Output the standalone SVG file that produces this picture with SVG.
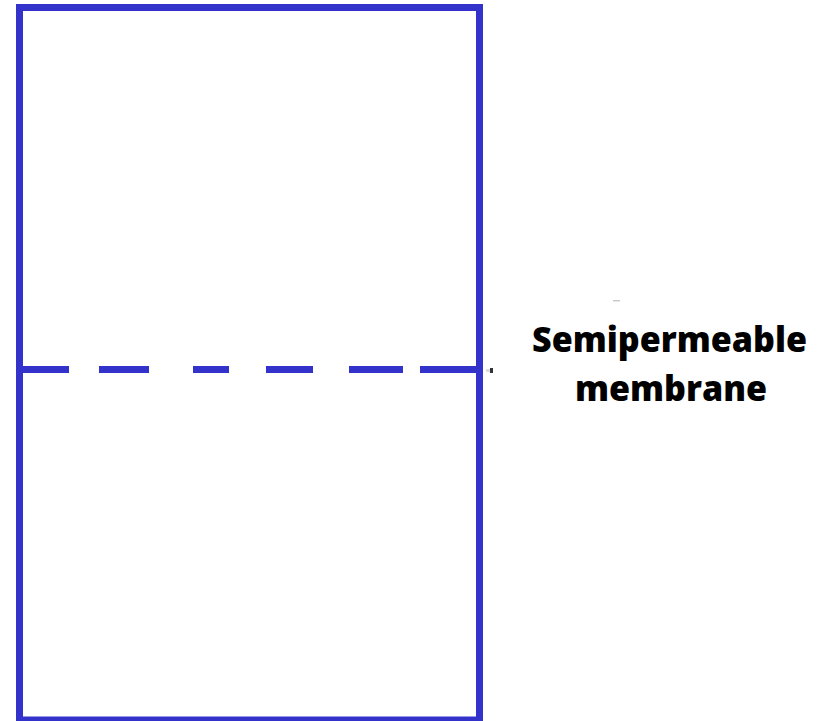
<svg xmlns="http://www.w3.org/2000/svg" width="829" height="721" viewBox="0 0 829 721">
<style>
.wall{fill:none;stroke:#3333cc;stroke-width:7}
.mem{stroke:#3333cc;stroke-width:7;fill:none}
.lbl{font-family:"Open Sans","Liberation Sans",sans-serif;font-weight:800;font-size:36px;fill:#000;text-anchor:middle}
</style>
<rect width="829" height="721" fill="#fff"/>
<g id="container">
<rect class="wall" x="19.5" y="7.5" width="460" height="712.5"/>
</g>
<g id="connectors">
<path class="mem" d="M16 369.5H69M99 369.5H149M193 369.5H229M266 369.5H313M349 369.5H403M420 369.5H480"/>
<rect x="486" y="369" width="4" height="3" fill="#ddd"/>
<rect x="490" y="368" width="3" height="5" fill="#333"/>
<rect x="613" y="300" width="7" height="1.5" fill="#ccc"/>
</g>
<g id="label">
<text class="lbl" x="669.5" y="352" textLength="275" lengthAdjust="spacingAndGlyphs">Semipermeable</text>
<text class="lbl" x="671" y="401" textLength="192" lengthAdjust="spacingAndGlyphs">membrane</text>
</g>
</svg>
